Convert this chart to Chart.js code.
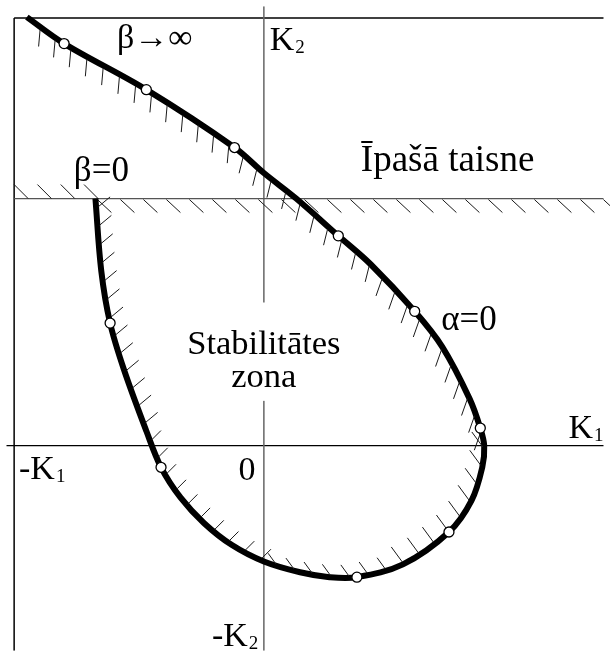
<!DOCTYPE html>
<html>
<head>
<meta charset="utf-8">
<script src="https://cdn.jsdelivr.net/npm/chart.js@4.4.1/dist/chart.umd.min.js"></script>
<style>
  html, body { margin: 0; padding: 0; background: #fff; }
  canvas { display: block; }
</style>
</head>
<body>
<canvas id="chart" width="610" height="657"></canvas>
<script>
// Boundary of the stability zone in the (K1, K2) plane,
// from beta=0 on the special line, round the bottom, up along alpha=0 and out to beta->inf
const curveK1 = [-1.72, -1.66, -1.57, -1.43, -1.20, -1.05, -0.85, -0.61, -0.33, 0.00,
                 0.37, 0.67, 0.95, 1.42, 1.89, 2.12, 2.23, 2.25, 2.21, 2.10,
                 1.82, 1.54, 1.09, 0.76, 0.33, 0.00, -0.30, -1.20, -2.04, -2.42];
const curveK2 = [2.52, 1.78, 1.25, 0.78, 0.15, -0.22, -0.53, -0.79, -1.01, -1.18,
                 -1.29, -1.34, -1.34, -1.21, -0.88, -0.56, -0.22, 0.00, 0.18, 0.48,
                 1.01, 1.37, 1.85, 2.14, 2.52, 2.78, 3.04, 3.63, 4.10, 4.37];
// computed points shown as small circles
const markedPoints = [2, 5, 12, 14, 18, 21, 23, 26, 27, 28];

// special line (Īpašā taisne) and the drawing frame
const specialK2 = 2.52;
const frameK1 = -2.55;
const frameK2 = 4.36;
const rangeK1 = [-2.63, 3.47];
const rangeK2 = [-2.09, 4.48];

const FONT = '"Liberation Serif", "Times New Roman", serif';

// hatch stroke (px) for each stretch of the boundary, by segment index
const hatchRules = [
  { upTo: 3,  dx: 12,   dy: -10 },
  { upTo: 8,  dx: 9,    dy: -9 },
  { upTo: 12, dx: -8,   dy: -11 },
  { upTo: 16, dx: -11,  dy: -15 },
  { upTo: 21, dx: -6,   dy: 17 },
  { upTo: 25, dx: -4,   dy: 16 },
  { upTo: 99, dx: -1.5, dy: 17 }
];
const HATCH_STEP = 18.5;

const labels = [
  { text: 'β→∞', x: -1.50, y: 4.05, size: 34 },
  { text: 'K', sub: '2', x: 0.06, y: 4.03, size: 34 },
  { text: 'Īpašā taisne', x: 0.99, y: 2.80, size: 37 },
  { text: 'β=0', x: -1.94, y: 2.70, size: 35 },
  { text: 'α=0', x: 1.81, y: 1.18, size: 35 },
  { text: 'K', sub: '1', x: 3.11, y: 0.08, size: 34 },
  { text: '-K', sub: '1', x: -2.50, y: -0.34, size: 34 },
  { text: '0', x: -0.26, y: -0.35, size: 34 },
  { text: '-K', sub: '2', x: -0.53, y: -2.04, size: 34 }
];
const zoneLines = [
  { text: 'Stabilitātes', y: 0.93 },
  { text: 'zona', y: 0.60 }
];

const curveData = curveK1.map((k1, i) => ({ x: k1, y: curveK2[i] }));
const markData = markedPoints.map(i => ({ x: curveK1[i], y: curveK2[i] }));

function segment(x0, y0, x1, y1, color, width) {
  return {
    data: [{ x: x0, y: y0 }, { x: x1, y: y1 }],
    borderColor: color,
    borderWidth: width,
    pointRadius: 0,
    tension: 0,
    order: 5
  };
}

// white page
const background = {
  id: 'background',
  beforeDraw(chart) {
    const c = chart.ctx;
    c.save();
    c.fillStyle = '#fff';
    c.fillRect(0, 0, chart.width, chart.height);
    c.restore();
  }
};

function hatchFor(seg) {
  for (const r of hatchRules) {
    if (seg <= r.upTo) return r;
  }
  return hatchRules[hatchRules.length - 1];
}

// sample the drawn bezier so the hatching sits on the curve
function sampleCurve(points) {
  const out = [];
  for (let i = 0; i < points.length - 1; i++) {
    const a = points[i], b = points[i + 1];
    const hasCp = a.cp2x !== undefined && b.cp1x !== undefined;
    const c1x = hasCp ? a.cp2x : a.x, c1y = hasCp ? a.cp2y : a.y;
    const c2x = hasCp ? b.cp1x : b.x, c2y = hasCp ? b.cp1y : b.y;
    for (let s = 0; s < 30; s++) {
      const t = s / 30, u = 1 - t;
      out.push({
        x: u * u * u * a.x + 3 * u * u * t * c1x + 3 * u * t * t * c2x + t * t * t * b.x,
        y: u * u * u * a.y + 3 * u * u * t * c1y + 3 * u * t * t * c2y + t * t * t * b.y,
        seg: i
      });
    }
  }
  const last = points[points.length - 1];
  out.push({ x: last.x, y: last.y, seg: points.length - 2 });
  return out;
}

const hatching = {
  id: 'hatching',
  afterDatasetDraw(chart, args) {
    const c = chart.ctx;
    const xs = chart.scales.x, ys = chart.scales.y;
    c.save();
    c.strokeStyle = '#1a1a1a';
    c.lineWidth = 1;
    c.beginPath();
    if (args.index === 0) {
      // hatch marks along the special line
      const ly = ys.getPixelForValue(specialK2);
      const left = xs.getPixelForValue(frameK1);
      const cut = xs.getPixelForValue(curveK1[0]);
      for (let x = left; x < cut - 8; x += 23.3) {
        c.moveTo(x, ly - 14);
        c.lineTo(x + 14, ly);
      }
      for (let x = cut + 2; x < chart.width; x += 23) {
        c.moveTo(x, ly + 1);
        c.lineTo(x + 14, ly + 14);
      }
    } else if (args.index === 5) {
      const pts = sampleCurve(args.meta.data);
      let acc = 0, next = 10;
      for (let i = 1; i < pts.length; i++) {
        const p = pts[i - 1], q = pts[i];
        const d = Math.hypot(q.x - p.x, q.y - p.y);
        while (acc + d >= next) {
          const t = (next - acc) / d;
          const hx = p.x + (q.x - p.x) * t, hy = p.y + (q.y - p.y) * t;
          const r = hatchFor(p.seg);
          const len = Math.hypot(r.dx, r.dy);
          const sx = hx + r.dx / len * 2.5, sy = hy + r.dy / len * 2.5;
          c.moveTo(sx, sy);
          c.lineTo(sx + r.dx, sy + r.dy);
          next += HATCH_STEP;
        }
        acc += d;
      }
    }
    c.stroke();
    c.restore();
  }
};

function drawLabel(c, xs, ys, l) {
  const px = xs.getPixelForValue(l.x), py = ys.getPixelForValue(l.y);
  c.font = l.size + 'px ' + FONT;
  c.fillText(l.text, px, py);
  if (l.sub) {
    const w = c.measureText(l.text).width;
    c.font = Math.round(l.size * 0.56) + 'px ' + FONT;
    c.fillText(l.sub, px + w + 1, py + 3);
  }
}

const textLabels = {
  id: 'textLabels',
  afterDatasetsDraw(chart) {
    const c = chart.ctx;
    const xs = chart.scales.x, ys = chart.scales.y;
    c.save();
    c.fillStyle = '#000';
    c.textBaseline = 'alphabetic';
    c.textAlign = 'left';
    labels.forEach(l => drawLabel(c, xs, ys, l));

    // zone caption sits on a white patch that interrupts the K2 axis
    const cx = xs.getPixelForValue(0);
    const top = ys.getPixelForValue(zoneLines[0].y) - 52;
    const bottom = ys.getPixelForValue(zoneLines[1].y) + 14;
    c.fillStyle = '#fff';
    c.fillRect(cx - 82, top, 164, bottom - top);
    c.fillStyle = '#000';
    c.textAlign = 'center';
    c.font = '34.5px ' + FONT;
    zoneLines.forEach(z => c.fillText(z.text, cx, ys.getPixelForValue(z.y)));
    c.restore();
  }
};

new Chart(document.getElementById('chart'), {
  type: 'line',
  data: {
    datasets: [
      segment(rangeK1[0] + 0.08, specialK2, rangeK1[1], specialK2, '#555', 1.3),
      segment(0, rangeK2[1], 0, rangeK2[0], '#666', 1.5),
      segment(rangeK1[0], 0, rangeK1[1], 0, '#000', 1.3),
      segment(frameK1, frameK2, rangeK1[1], frameK2, '#000', 1.5),
      segment(frameK1, frameK2, frameK1, rangeK2[0], '#000', 1.5),
      {
        data: curveData,
        borderColor: '#000',
        borderWidth: 6,
        pointRadius: 0,
        tension: 0.35,
        order: 2
      },
      {
        data: markData,
        showLine: false,
        pointRadius: 5,
        pointBorderWidth: 1.3,
        pointBorderColor: '#000',
        pointBackgroundColor: '#fff',
        order: 0
      }
    ]
  },
  options: {
    responsive: false,
    animation: false,
    events: [],
    layout: { padding: 0 },
    scales: {
      x: { type: 'linear', min: rangeK1[0], max: rangeK1[1], display: false },
      y: { type: 'linear', min: rangeK2[0], max: rangeK2[1], display: false }
    },
    plugins: {
      legend: { display: false },
      tooltip: { enabled: false }
    }
  },
  plugins: [background, hatching, textLabels]
});
</script>
</body>
</html>
